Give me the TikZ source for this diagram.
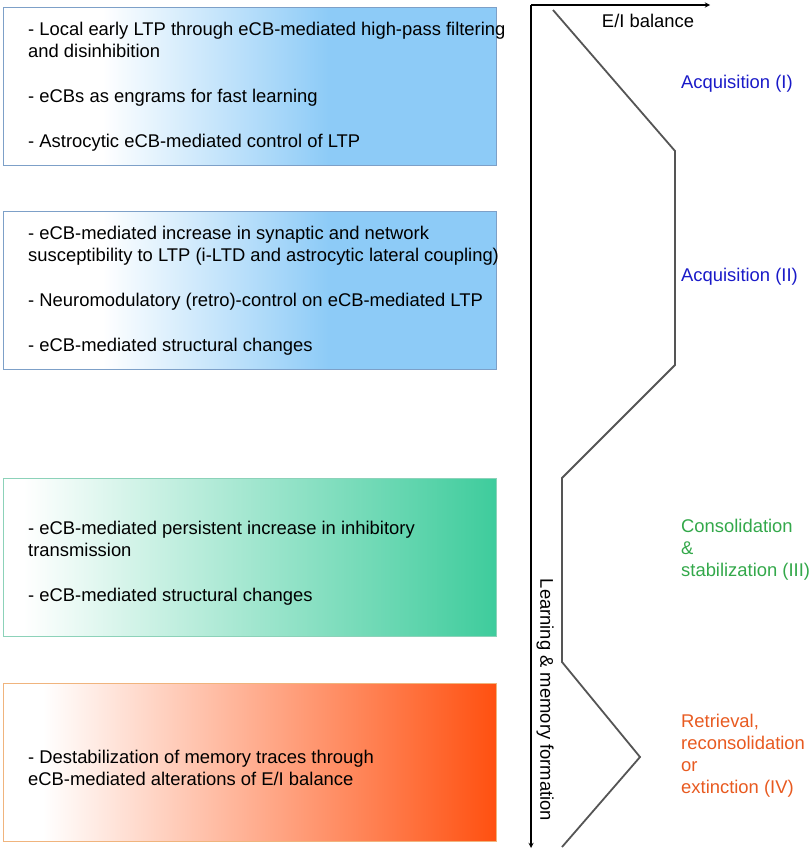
\documentclass[tikz,border=0pt]{standalone}
\usepackage{fontspec}
\setmainfont{Liberation Sans}
\usetikzlibrary{positioning}

\definecolor{azulcx}{RGB}{141,203,247}
\definecolor{verdecx}{RGB}{62,204,156}
\definecolor{laranjacx}{RGB}{255,80,16}
\definecolor{azulborda}{RGB}{125,160,200}
\definecolor{verdeborda}{RGB}{140,210,185}
\definecolor{laranjaborda}{RGB}{240,180,125}
\definecolor{azultxt}{RGB}{26,26,200}
\definecolor{verdetxt}{RGB}{51,168,74}
\definecolor{laranjatxt}{RGB}{232,90,32}
\definecolor{cinza}{RGB}{85,85,85}

% o caminho ocupa de 25bp a 75bp da sombra
\pgfdeclarehorizontalshading{sombraazul}{100bp}{color(0bp)=(white); color(35bp)=(white); color(58bp)=(azulcx); color(100bp)=(azulcx)}
\pgfdeclarehorizontalshading{sombraverde}{100bp}{color(0bp)=(white); color(27bp)=(white); color(75bp)=(verdecx); color(100bp)=(verdecx)}
\pgfdeclarehorizontalshading{sombralaranja}{100bp}{color(0bp)=(white); color(29bp)=(white); color(75bp)=(laranjacx); color(100bp)=(laranjacx)}

\begin{document}
\begin{tikzpicture}[x=1pt, y=-1pt,
    caixa/.style={minimum width=493, minimum height=158, anchor=north west, inner sep=0, line width=1pt},
    texto/.style={anchor=west, align=left, inner sep=0, font=\fontsize{18.4}{22}\selectfont},
    fase/.style={texto}]
    \useasboundingbox (0,0) rectangle (811,850);

    % caixas com gradiente
    \node[caixa, draw=azulborda, shading=sombraazul] (cx1) at (3,7) {};
    \node[caixa, draw=azulborda, shading=sombraazul] (cx2) at (3,211) {};
    \node[caixa, draw=verdeborda, shading=sombraverde] (cx3) at (3,478) {};
    \node[caixa, draw=laranjaborda, shading=sombralaranja] (cx4) at (3,683) {};

    % textos das caixas
    \node[texto] (t1) at ([xshift=25]cx1.west) {- Local early LTP through eCB-mediated high-pass filtering\\and disinhibition\\[23pt]- eCBs as engrams for fast learning\\[23pt]- Astrocytic eCB-mediated control of LTP};
    \node[texto] (t2) at ([xshift=25]cx2.west) {- eCB-mediated increase in synaptic and network\\susceptibility to LTP (i-LTD and astrocytic lateral coupling)\\[23pt]- Neuromodulatory (retro)-control on eCB-mediated LTP\\[23pt]- eCB-mediated structural changes};
    \node[texto] (t3) at ([xshift=25,yshift=-6]cx3.west) {- eCB-mediated persistent increase in inhibitory\\transmission\\[23pt]- eCB-mediated structural changes};
    \node[texto] (t4) at ([xshift=25,yshift=-5]cx4.west) {- Destabilization of memory traces through\\eCB-mediated alterations of E/I balance};

    % eixos
    \coordinate (origem) at (531,5);
    \coordinate (fimx) at (710,5);
    \coordinate (fimy) at (531,848);
    \draw[line width=1.3pt, -stealth] (origem) -- (fimx);
    \draw[line width=1.3pt, -stealth] (origem) -- (fimy);
    \node[font=\fontsize{18.4}{22}\selectfont] (ei) at (648,21) {E/I balance};
    \node[font=\fontsize{18.4}{22}\selectfont, rotate=-90] (aprend) at (545,700) {Learning \& memory formation};

    % curva do balanco E/I
    \draw[cinza, line width=1.8pt] (553,10) -- (675,151) -- (675,365) -- (562,478) -- (562,662) -- (640,757) -- (562,847);

    % fases
    \node[fase, azultxt] (f1) at (681,84) {Acquisition (I)};
    \node[fase, azultxt] (f2) at (681,277) {Acquisition (II)};
    \node[fase, verdetxt] (f3) at (681,550) {Consolidation\\\&\\stabilization (III)};
    \node[fase, laranjatxt] (f4) at (681,756) {Retrieval,\\reconsolidation\\or\\extinction (IV)};
\end{tikzpicture}
\end{document}
